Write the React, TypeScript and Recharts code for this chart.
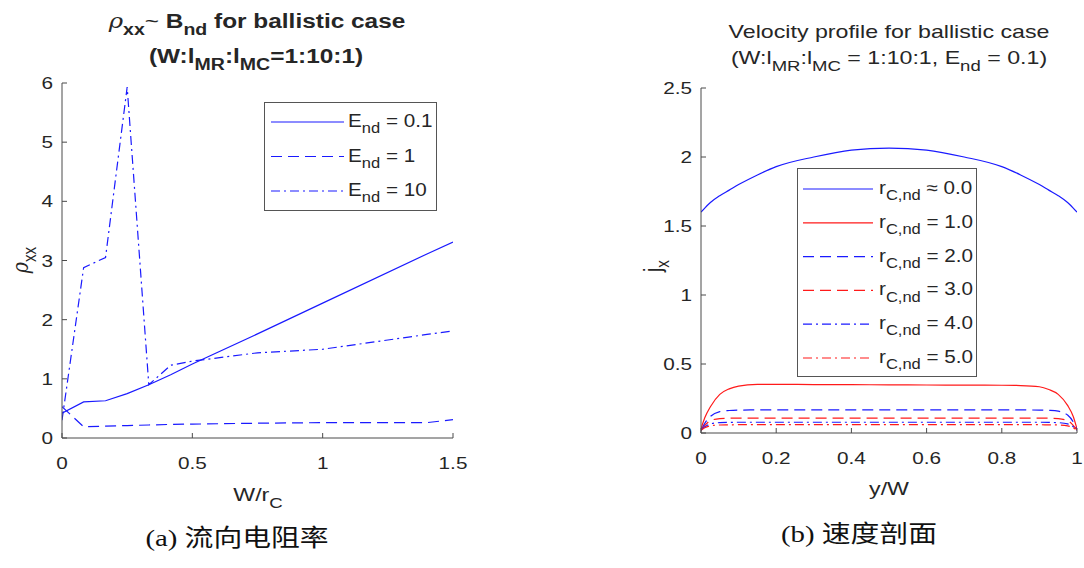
import React from 'react';
import { LineChart, Line, XAxis, YAxis } from 'recharts';

// (a) rho_xx against W/r_C for three driving fields
const wOverRc = [0, 0.083, 0.167, 0.25, 0.333, 0.417, 0.5, 0.75, 1, 1.4, 1.5];
const rhoE01 = [0.42, 0.61, 0.63, 0.75, 0.9, 1.07, 1.25, 1.76, 2.28, 3.11, 3.31];
const rhoE1 = [0.53, 0.19, 0.2, 0.21, 0.22, 0.23, 0.235, 0.25, 0.26, 0.26, 0.31];
const rhoE10 = [0.3, 2.88, 3.05, 5.93, 0.9, 1.23, 1.3, 1.44, 1.5, 1.75, 1.81];
const wTicks = [0, 0.5, 1, 1.5];
const rhoTicks = [0, 1, 2, 3, 4, 5, 6];

// (b) j_x across the channel for several cyclotron radii
const yOverW = [0, 0.01, 0.025, 0.05, 0.075, 0.1, 0.15, 0.2, 0.3, 0.4, 0.5, 0.6, 0.7, 0.8, 0.85, 0.9, 0.925, 0.95, 0.975, 0.99, 1];
const jRc0 = [1.6, 1.63, 1.67, 1.72, 1.76, 1.8, 1.87, 1.93, 2.0, 2.05, 2.065, 2.05, 2.0, 1.93, 1.87, 1.8, 1.76, 1.72, 1.67, 1.63, 1.6];
const jRc1 = [0.03, 0.11, 0.19, 0.28, 0.32, 0.34, 0.352, 0.353, 0.351, 0.35, 0.349, 0.348, 0.347, 0.346, 0.344, 0.335, 0.315, 0.28, 0.2, 0.12, 0.03];
const jRc2 = [0.02, 0.07, 0.12, 0.155, 0.163, 0.166, 0.167, 0.167, 0.167, 0.167, 0.167, 0.167, 0.167, 0.167, 0.167, 0.166, 0.164, 0.158, 0.13, 0.08, 0.02];
const jRc3 = [0.02, 0.055, 0.09, 0.104, 0.107, 0.108, 0.108, 0.108, 0.108, 0.108, 0.108, 0.108, 0.108, 0.108, 0.108, 0.108, 0.107, 0.104, 0.09, 0.055, 0.02];
const jRc4 = [0.02, 0.045, 0.066, 0.075, 0.077, 0.078, 0.078, 0.078, 0.078, 0.078, 0.078, 0.078, 0.078, 0.078, 0.078, 0.078, 0.077, 0.075, 0.066, 0.045, 0.02];
const jRc5 = [0.02, 0.038, 0.052, 0.058, 0.059, 0.06, 0.06, 0.06, 0.06, 0.06, 0.06, 0.06, 0.06, 0.06, 0.06, 0.06, 0.059, 0.058, 0.052, 0.038, 0.02];
const yTicks = [0, 0.2, 0.4, 0.6, 0.8, 1];
const jTicks = [0, 0.5, 1, 1.5, 2, 2.5];

const rhoRows = wOverRc.map((x, i) => ({ x, e01: rhoE01[i], e1: rhoE1[i], e10: rhoE10[i] }));
const jRows = yOverW.map((y, i) => ({
  y, r0: jRc0[i], r1: jRc1[i], r2: jRc2[i], r3: jRc3[i], r4: jRc4[i], r5: jRc5[i],
}));

const SANS = '"Liberation Sans", Arial, Helvetica, sans-serif';
const TEXT = '#262626';
const AXIS = '#4a4a4a';
const BLUE = '#1a1aff';
const RED = '#ff1a1a';
const DASH = '11 6';
const DASHDOT = '9 4 2 4';
// the figure is wider than its glyphs are tall; text gets the same horizontal stretch
const SX = 1.22;

function XTick(props: any) {
  const { x, y, payload } = props;
  return (
    <g transform={`translate(${x},${y}) scale(${SX},1)`}>
      <text x={0} y={0} dy="0.71em" textAnchor="middle" fill={TEXT} fontSize={17} fontFamily={SANS}>
        {payload.value}
      </text>
    </g>
  );
}

function YTick(props: any) {
  const { x, y, payload } = props;
  return (
    <g transform={`translate(${x},${y}) scale(${SX},1)`}>
      <text x={0} y={0} dy="0.355em" textAnchor="end" fill={TEXT} fontSize={17} fontFamily={SANS}>
        {payload.value}
      </text>
    </g>
  );
}

function Sub({ children }: { children: React.ReactNode }) {
  return <span style={{ fontSize: '0.8em', position: 'relative', top: '0.45em' }}>{children}</span>;
}

function Label({ x, y, size = 19, bold = false, rotate = false, children }: {
  x: number; y: number; size?: number; bold?: boolean; rotate?: boolean; children: React.ReactNode;
}) {
  return (
    <div
      style={{
        position: 'absolute', left: x, top: y,
        transform: `translate(-50%, -50%) scaleX(${SX})${rotate ? ' rotate(-90deg)' : ''}`,
        whiteSpace: 'nowrap', fontFamily: SANS, fontSize: size, fontWeight: bold ? 'bold' : 'normal',
        color: TEXT, lineHeight: 1,
      }}
    >
      {children}
    </div>
  );
}

function Caption({ x, y, children }: { x: number; y: number; children: React.ReactNode }) {
  return (
    <div
      style={{
        position: 'absolute', left: x, top: y, transform: `translate(-50%, -50%) scaleX(1.2)`, whiteSpace: 'nowrap',
        fontFamily: '"Liberation Serif", "Noto Sans CJK SC", serif', fontSize: 24, color: '#111', lineHeight: 1,
      }}
    >
      {children}
    </div>
  );
}

type LegendItem = { color: string; dash?: string; label: React.ReactNode };

function LegendBox({ left, top, width, height, firstRow, rowStep, lineX0, lineX1, textX, items }: {
  left: number; top: number; width: number; height: number; firstRow: number; rowStep: number;
  lineX0: number; lineX1: number; textX: number; items: LegendItem[];
}) {
  return (
    <div
      style={{
        position: 'absolute', left, top, width, height, boxSizing: 'border-box',
        background: '#fff', border: '1px solid #555',
      }}
    >
      <svg width={width} height={height} style={{ position: 'absolute', left: -1, top: -1 }}>
        {items.map((it, i) => (
          <line
            key={i}
            x1={lineX0} x2={lineX1}
            y1={firstRow + i * rowStep} y2={firstRow + i * rowStep}
            stroke={it.color} strokeWidth={1.2} strokeDasharray={it.dash}
          />
        ))}
      </svg>
      {items.map((it, i) => (
        <div
          key={i}
          style={{
            position: 'absolute', left: textX - 1, top: firstRow + i * rowStep - 1 - 10,
            transform: `scaleX(1.18)`, transformOrigin: 'left center',
            fontFamily: SANS, fontSize: 17.5, color: TEXT, lineHeight: '18px', whiteSpace: 'nowrap',
          }}
        >
          {it.label}
        </div>
      ))}
    </div>
  );
}

function RhoChart() {
  return (
    <LineChart width={540} height={568} data={rhoRows} margin={{ top: 83, right: 87, bottom: 100, left: 32 }}>
      <XAxis
        dataKey="x" type="number" domain={[0, 1.5]} ticks={wTicks} allowDataOverflow
        stroke={AXIS} tickSize={-5} tickMargin={24} tick={<XTick />} height={30}
      />
      <XAxis
        xAxisId="top" orientation="top" type="number" domain={[0, 1.5]} ticks={wTicks} allowDataOverflow
        stroke={AXIS} tickSize={-5} tick={false} height={0}
      />
      <YAxis
        type="number" domain={[0, 6]} ticks={rhoTicks} allowDataOverflow
        stroke={AXIS} tickSize={-5} tickMargin={14} tick={<YTick />} width={30}
      />
      <YAxis
        yAxisId="right" orientation="right" type="number" domain={[0, 6]} ticks={rhoTicks} allowDataOverflow
        stroke={AXIS} tickSize={-5} tick={false} width={0}
      />
      <Line dataKey="e01" type="linear" stroke={BLUE} strokeWidth={1.2} dot={false} isAnimationActive={false} />
      <Line dataKey="e1" type="linear" stroke={BLUE} strokeWidth={1.2} strokeDasharray={DASH} dot={false} isAnimationActive={false} />
      <Line dataKey="e10" type="linear" stroke={BLUE} strokeWidth={1.2} strokeDasharray={DASHDOT} dot={false} isAnimationActive={false} />
    </LineChart>
  );
}

function ProfileChart() {
  const series = [
    { key: 'r0', color: BLUE, dash: undefined },
    { key: 'r1', color: RED, dash: undefined },
    { key: 'r2', color: BLUE, dash: DASH },
    { key: 'r3', color: RED, dash: DASH },
    { key: 'r4', color: BLUE, dash: DASHDOT },
    { key: 'r5', color: RED, dash: DASHDOT },
  ];
  return (
    <LineChart width={544} height={568} data={jRows} margin={{ top: 88, right: 7, bottom: 105, left: 121 }}>
      <XAxis
        dataKey="y" type="number" domain={[0, 1]} ticks={yTicks} allowDataOverflow
        stroke={AXIS} tickSize={-5} tickMargin={24} tick={<XTick />} height={30}
      />
      <XAxis
        xAxisId="top" orientation="top" type="number" domain={[0, 1]} ticks={yTicks} allowDataOverflow
        stroke={AXIS} tickSize={-5} tick={false} height={0}
      />
      <YAxis
        type="number" domain={[0, 2.5]} ticks={jTicks} allowDataOverflow
        stroke={AXIS} tickSize={-5} tickMargin={14} tick={<YTick />} width={40}
      />
      <YAxis
        yAxisId="right" orientation="right" type="number" domain={[0, 2.5]} ticks={jTicks} allowDataOverflow
        stroke={AXIS} tickSize={-5} tick={false} width={0}
      />
      {series.map((s) => (
        <Line
          key={s.key} dataKey={s.key} type="monotone" stroke={s.color} strokeWidth={1.2}
          strokeDasharray={s.dash} dot={false} isAnimationActive={false}
        />
      ))}
    </LineChart>
  );
}

const rcLabel = (rel: string, v: string) => (
  <>r<Sub>C,nd</Sub> {rel} {v}</>
);

export default function App() {
  return (
    <div style={{ position: 'absolute', left: 0, top: 0, width: 1084, height: 568, background: '#fff', overflow: 'hidden' }}>
      <div style={{ position: 'absolute', left: 0, top: 0 }}>
        <RhoChart />
      </div>
      <div style={{ position: 'absolute', left: 540, top: 0 }}>
        <ProfileChart />
      </div>

      {/* panel (a) text */}
      <Label x={257} y={21} size={20} bold>
        <span style={{ fontStyle: 'italic', fontWeight: 'normal', fontFamily: '"DejaVu Serif", serif' }}>ρ</span>
        <Sub>xx</Sub><span style={{ fontWeight: 'normal' }}>~</span> B<Sub>nd</Sub> for ballistic case
      </Label>
      <Label x={256} y={56} size={20} bold>
        (W:l<Sub>MR</Sub>:l<Sub>MC</Sub>=1:10:1)
      </Label>
      <Label x={20} y={260} rotate>
        <span style={{ fontStyle: 'italic', fontFamily: '"DejaVu Serif", serif' }}>ρ</span><Sub>xx</Sub>
      </Label>
      <Label x={258} y={494}>W/r<Sub>C</Sub></Label>
      <Caption x={237} y={538}>(a) 流向电阻率</Caption>

      <LegendBox
        left={264} top={102} width={173} height={109} firstRow={20} rowStep={34.5}
        lineX0={7} lineX1={80} textX={84}
        items={[
          { color: BLUE, label: <>E<Sub>nd</Sub> = 0.1</> },
          { color: BLUE, dash: DASH, label: <>E<Sub>nd</Sub> = 1</> },
          { color: BLUE, dash: DASHDOT, label: <>E<Sub>nd</Sub> = 10</> },
        ]}
      />

      {/* panel (b) text */}
      <Label x={889} y={31} size={19}>Velocity profile for ballistic case</Label>
      <Label x={889} y={57} size={19}>
        (W:l<Sub>MR</Sub>:l<Sub>MC</Sub> = 1:10:1, E<Sub>nd</Sub> = 0.1)
      </Label>
      <Label x={653} y={266} rotate>j<Sub>x</Sub></Label>
      <Label x={889} y={488}>y/W</Label>
      <Caption x={859} y={534}>(b) 速度剖面</Caption>

      <LegendBox
        left={797} top={168} width={180} height={209} firstRow={21} rowStep={33.8}
        lineX0={6} lineX1={76} textX={82}
        items={[
          { color: BLUE, label: rcLabel('≈', '0.0') },
          { color: RED, label: rcLabel('=', '1.0') },
          { color: BLUE, dash: DASH, label: rcLabel('=', '2.0') },
          { color: RED, dash: DASH, label: rcLabel('=', '3.0') },
          { color: BLUE, dash: DASHDOT, label: rcLabel('=', '4.0') },
          { color: RED, dash: DASHDOT, label: rcLabel('=', '5.0') },
        ]}
      />
    </div>
  );
}
